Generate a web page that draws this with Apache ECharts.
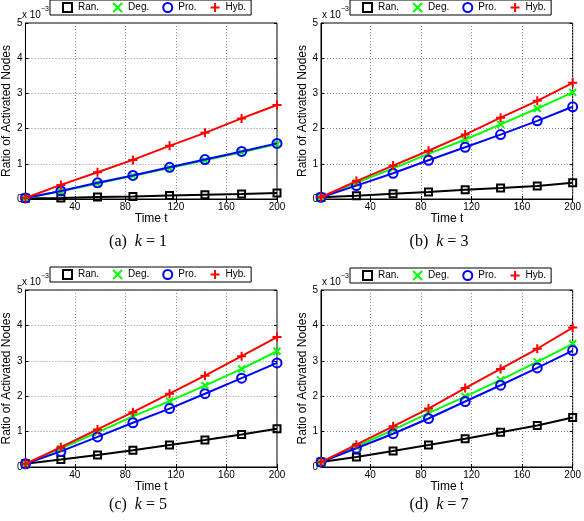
<!DOCTYPE html>
<html><head><meta charset="utf-8">
<script src="https://cdn.jsdelivr.net/npm/echarts@6/dist/echarts.min.js"></script>
<style>html,body{margin:0;padding:0;background:#fff}#c{width:584px;height:521px}</style>
</head><body><div id="c"></div>
<script>
// ---- data (values in units of 1e-3) ----
const tValues = [1, 29, 58, 86, 115, 143, 172, 200];
const xTickValues = [40, 80, 120, 160, 200];
const yTickLabels = [0, 1, 2, 3, 4, 5];
const seriesNames = ['Ran.', 'Deg.', 'Pro.', 'Hyb.'];
const panelLetters = ['a', 'b', 'c', 'd'];
const kValues = [1, 3, 5, 7];

const ranK1 = [0.02, 0.03, 0.06, 0.07, 0.10, 0.12, 0.14, 0.17];
const degK1 = [0.02, 0.22, 0.44, 0.66, 0.88, 1.10, 1.33, 1.56];
const proK1 = [0.03, 0.23, 0.46, 0.67, 0.90, 1.12, 1.35, 1.58];
const hybK1 = [0.03, 0.40, 0.76, 1.11, 1.51, 1.88, 2.29, 2.67];

const ranK3 = [0.05, 0.09, 0.15, 0.20, 0.26, 0.31, 0.37, 0.46];
const degK3 = [0.05, 0.46, 0.87, 1.28, 1.69, 2.12, 2.57, 3.03];
const proK3 = [0.05, 0.38, 0.73, 1.10, 1.47, 1.83, 2.22, 2.62];
const hybK3 = [0.05, 0.51, 0.95, 1.37, 1.83, 2.31, 2.79, 3.30];

const ranK5 = [0.09, 0.21, 0.34, 0.47, 0.62, 0.76, 0.92, 1.08];
const degK5 = [0.09, 0.52, 0.98, 1.43, 1.86, 2.30, 2.77, 3.27];
const proK5 = [0.09, 0.44, 0.85, 1.25, 1.65, 2.07, 2.51, 2.94];
const hybK5 = [0.09, 0.56, 1.06, 1.55, 2.07, 2.58, 3.13, 3.67];

const ranK7 = [0.14, 0.28, 0.45, 0.62, 0.80, 0.98, 1.17, 1.40];
const degK7 = [0.14, 0.58, 1.05, 1.52, 1.99, 2.46, 2.97, 3.48];
const proK7 = [0.14, 0.53, 0.94, 1.37, 1.85, 2.31, 2.80, 3.29];
const hybK7 = [0.14, 0.63, 1.15, 1.65, 2.23, 2.77, 3.34, 3.94];

const panelData = [
  [ranK1, degK1, proK1, hybK1],
  [ranK3, degK3, proK3, hybK3],
  [ranK5, degK5, proK5, hybK5],
  [ranK7, degK7, proK7, hybK7]
];

// ---- styles / layout ----
const colors = ['#000000', '#00ff00', '#0000ff', '#ff0000'];
const symbols = ['rect', 'path://M0,0L10,10M0,10L10,0', 'circle', 'path://M5,0L5,10M0,5L10,5'];
const symbolSizes = [7, 7, 9, 9];
const SANS = 'Liberation Sans, Arial, Helvetica, sans-serif';
const SERIF = 'Liberation Serif, Times New Roman, serif';

const layout = [
  {left: 21, top: 23, width: 256, height: 176, legendLeft: 50, legendTop: 0, nameGapY: 9, nameGapX: 13, capX: 138, capY: 241.5},
  {left: 321, top: 23, width: 255, height: 176, legendLeft: 350, legendTop: 0, nameGapY: 10, nameGapX: 13, capX: 439, capY: 241.5},
  {left: 21, top: 290, width: 256, height: 177, legendLeft: 50, legendTop: 267, nameGapY: 9, nameGapX: 14, capX: 138, capY: 505},
  {left: 321, top: 290, width: 255, height: 177, legendLeft: 350, legendTop: 268, nameGapY: 10, nameGapX: 14, capX: 439, capY: 505}
];

const grids = [], xAxes = [], yAxes = [], series = [], legends = [], graphics = [];

layout.forEach((L, p) => {
  grids.push({left: L.left, top: L.top, width: L.width, height: L.height,
    show: true, borderColor: '#000', borderWidth: 1, backgroundColor: 'transparent', containLabel: false});
  const tickStyle = {show: true, inside: true, length: 3, customValues: xTickValues, lineStyle: {color: '#000', width: 1}};
  xAxes.push({
    type: 'value', gridIndex: p, min: 1, max: 200, position: 'bottom',
    name: 'Time t', nameLocation: 'middle', nameGap: L.nameGapX,
    nameTextStyle: {fontFamily: SANS, fontSize: 12, color: '#000'},
    axisLine: {show: true, lineStyle: {color: '#000', width: 1}},
    axisTick: tickStyle,
    axisLabel: {show: true, customValues: xTickValues, fontFamily: SANS, fontSize: 10, color: '#000', margin: 3},
    splitLine: {show: true, lineStyle: {color: '#8a8a8a', width: 1, type: [1, 2]}}
  });
  xAxes.push({
    type: 'value', gridIndex: p, min: 1, max: 200, position: 'top',
    axisLine: {show: false}, axisTick: tickStyle,
    axisLabel: {show: false}, splitLine: {show: false}
  });
  const yTick = {show: true, inside: true, length: 3, lineStyle: {color: '#000', width: 1}};
  yAxes.push({
    type: 'value', gridIndex: p, min: 0, max: 5, interval: 1, position: 'left',
    name: 'Ratio of Activated Nodes', nameLocation: 'middle', nameGap: L.nameGapY,
    nameTextStyle: {fontFamily: SANS, fontSize: 12, color: '#000'},
    axisLine: {show: true, lineStyle: {color: '#000', width: 1}},
    axisTick: yTick,
    axisLabel: {show: true, fontFamily: SANS, fontSize: 10, color: '#000', margin: 3,
      formatter: v => String(yTickLabels[Math.round(v)])},
    splitLine: {show: true, lineStyle: {color: '#8a8a8a', width: 1, type: [1, 2]}}
  });
  yAxes.push({
    type: 'value', gridIndex: p, min: 0, max: 5, interval: 1, position: 'right',
    axisLine: {show: false}, axisTick: yTick, axisLabel: {show: false}, splitLine: {show: false}
  });

  seriesNames.forEach((name, s) => {
    series.push({
      type: 'line', name: name,
      xAxisIndex: 2 * p, yAxisIndex: 2 * p,
      data: tValues.map((t, i) => [t, panelData[p][s][i]]),
      symbol: symbols[s], symbolSize: symbolSizes[s], showAllSymbol: true,
      lineStyle: {color: colors[s], width: 2},
      itemStyle: {color: 'transparent', borderColor: colors[s], borderWidth: 2},
      emphasis: {disabled: true}, z: 2 + s, animation: false
    });
  });

  legends.push({
    left: L.legendLeft, top: L.legendTop, orient: 'horizontal',
    selectedMode: false, itemWidth: 9, itemHeight: 9, itemGap: 13,
    padding: [2, 5, 2, 12], borderColor: '#000', borderWidth: 1, backgroundColor: '#fff',
    textStyle: {fontFamily: SANS, fontSize: 10, color: '#000', padding: [0, 0, 0, 1]},
    data: seriesNames.map((name, s) => ({
      name: name, icon: symbols[s],
      itemStyle: {color: 'transparent', borderColor: colors[s], borderWidth: 2}
    }))
  });

  // x 10^-3 exponent label
  graphics.push({type: 'text', left: L.left + 1, top: L.top - 13,
    style: {text: 'x 10', fontFamily: SANS, fontSize: 10, fill: '#000'}});
  graphics.push({type: 'text', left: L.left + 20, top: L.top - 17,
    style: {text: '\u22123', fontFamily: SANS, fontSize: 7, fill: '#000'}});

  // caption
  graphics.push({type: 'text', x: L.capX, y: L.capY,
    style: {
      text: '{n|(' + panelLetters[p] + ')}  {i|k} {n|=} {n|' + kValues[p] + '}',
      align: 'center', verticalAlign: 'middle',
      rich: {
        n: {fontFamily: SERIF, fontSize: 16, fill: '#000'},
        i: {fontFamily: SERIF, fontSize: 16, fontStyle: 'italic', fill: '#000'}
      },
      fontFamily: SERIF, fontSize: 16
    }});
});

const chart = echarts.init(document.getElementById('c'), null, {renderer: 'canvas'});
chart.setOption({
  backgroundColor: '#fff', animation: false,
  grid: grids, xAxis: xAxes, yAxis: yAxes, legend: legends, series: series, graphic: graphics
});
</script></body></html>
